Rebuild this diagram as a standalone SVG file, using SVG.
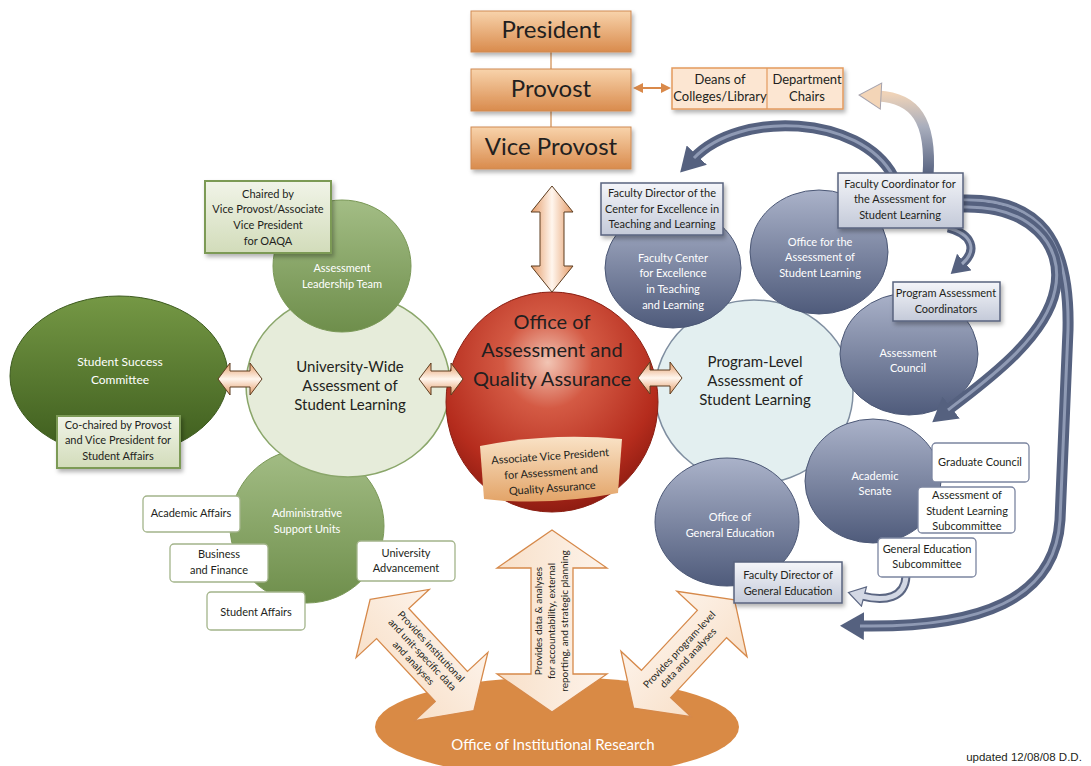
<svg xmlns="http://www.w3.org/2000/svg" width="1091" height="766" viewBox="0 0 1091 766">
<defs>
<linearGradient id="gTop" x1="0" y1="0" x2="0" y2="1"><stop offset="0" stop-color="#f8d3ab"/><stop offset="1" stop-color="#d98b4d"/></linearGradient>
<linearGradient id="gBlueBox" x1="0" y1="0" x2="0" y2="1"><stop offset="0" stop-color="#f4f5f9"/><stop offset="1" stop-color="#c4cad9"/></linearGradient>
<linearGradient id="gGreenBox" x1="0" y1="0" x2="0" y2="1"><stop offset="0" stop-color="#f1f4e8"/><stop offset="1" stop-color="#d2dcba"/></linearGradient>
<linearGradient id="gBlue" x1="0" y1="0" x2="0" y2="1"><stop offset="0" stop-color="#aab2c9"/><stop offset="1" stop-color="#4f5b7b"/></linearGradient>
<linearGradient id="gALT" x1="0" y1="0" x2="0" y2="1"><stop offset="0" stop-color="#a3bd85"/><stop offset="1" stop-color="#6e8e4b"/></linearGradient>
<linearGradient id="gSSC" x1="0" y1="0" x2="0" y2="1"><stop offset="0" stop-color="#759845"/><stop offset="1" stop-color="#3c5b1c"/></linearGradient>
<radialGradient id="gRed" cx="0.48" cy="0.32" r="0.7"><stop offset="0" stop-color="#f2c5b4"/><stop offset="0.3" stop-color="#d45a44"/><stop offset="0.75" stop-color="#b52c1d"/><stop offset="1" stop-color="#8a1a10"/></radialGradient>
<linearGradient id="gAVP" x1="0" y1="0" x2="0" y2="1"><stop offset="0" stop-color="#f9e2c6"/><stop offset="1" stop-color="#e3a468"/></linearGradient>
<linearGradient id="gOarr" x1="0" y1="0" x2="0" y2="1"><stop offset="0" stop-color="#fdf3ea"/><stop offset="1" stop-color="#f8e0c9"/></linearGradient>
<linearGradient id="gHarr" x1="0" y1="0" x2="0" y2="1"><stop offset="0" stop-color="#e49a66"/><stop offset="0.5" stop-color="#fff6ee"/><stop offset="1" stop-color="#e49a66"/></linearGradient>
<linearGradient id="gA2" gradientUnits="userSpaceOnUse" x1="0" y1="176" x2="0" y2="94"><stop offset="0" stop-color="#55617f"/><stop offset="0.6" stop-color="#a9aebd"/><stop offset="1" stop-color="#efd3b8"/></linearGradient>
<filter id="sh" x="-15%" y="-15%" width="140%" height="150%"><feDropShadow dx="2" dy="3" stdDeviation="2" flood-color="#000" flood-opacity="0.3"/></filter>
<marker id="mb" markerUnits="userSpaceOnUse" viewBox="0 0 24 28" refX="4" refY="14" markerWidth="24" markerHeight="28" orient="auto"><path d="M0,0 L24,14 L0,28 Z" fill="#55617f"/></marker>
<marker id="mp" markerUnits="userSpaceOnUse" viewBox="0 0 24 28" refX="4" refY="14" markerWidth="24" markerHeight="28" orient="auto"><path d="M1,1 L23,14 L1,27 Z" fill="#f3d5b7" stroke="#a6a3ad" stroke-width="1"/></marker>
<marker id="ms" markerUnits="userSpaceOnUse" viewBox="0 0 18 22" refX="3" refY="11" markerWidth="18" markerHeight="22" orient="auto"><path d="M0,0 L18,11 L0,22 Z" fill="#55617f"/></marker>
<marker id="ml" markerUnits="userSpaceOnUse" viewBox="0 0 18 22" refX="3" refY="11" markerWidth="18" markerHeight="22" orient="auto"><path d="M1,1 L17,11 L1,21 Z" fill="#d3d8e4" stroke="#5b6682" stroke-width="1.2"/></marker>
<marker id="mo" markerUnits="userSpaceOnUse" viewBox="0 0 10 10" refX="1" refY="5" markerWidth="10" markerHeight="10" orient="auto-start-reverse"><path d="M0,0 L10,5 L0,10 Z" fill="#d9894a"/></marker>
<style>
text{font-family:Lato,"Liberation Sans",sans-serif;fill:#231f20;text-anchor:middle}
.w{fill:#fff}
.f24{font-size:24px}
.f20{font-size:20px}
.f15{font-size:15px}
.f13{font-size:13px}
.f12{font-size:12px}
.f11{font-size:11px}
.f10{font-size:10px}
.topbox{fill:url(#gTop);stroke:#cf8a52;stroke-width:1}
.bbox{fill:url(#gBlueBox);stroke:#58637f;stroke-width:1.5}
.gbox{fill:url(#gGreenBox);stroke:#7c9a55;stroke-width:2}
.wbox{fill:#fff;stroke:#a3b48a;stroke-width:1.3}
.wboxb{fill:#fff;stroke:#7b85a0;stroke-width:1.3}
.bc{fill:url(#gBlue);stroke:#4c5876;stroke-width:1}
.oarr{fill:url(#gOarr);stroke:#d6894a;stroke-width:1.3}
.harr{fill:url(#gHarr);stroke:#5d3d20;stroke-width:1}
.barr{fill:none;stroke:#55617f;stroke-width:11}
.hl{fill:none;stroke:#8f9ab4;stroke-width:3}
</style>
</defs>
<rect width="1091" height="766" fill="#fff"/>

<!-- circle / ellipse nodes -->
<g id="admin-support-units">
<circle cx="307" cy="526" r="77" fill="url(#gALT)" stroke="#7a9857" stroke-width="1"/>
<text class="f11 w" x="307" y="517">Administrative</text>
<text class="f11 w" x="307" y="533">Support Units</text>
</g>
<g id="university-wide">
<ellipse cx="348" cy="385" rx="102" ry="92" fill="#e6ecda" stroke="#8aa66a" stroke-width="1.5"/>
<text class="f15" x="350" y="372">University-Wide</text>
<text class="f15" x="350" y="391">Assessment of</text>
<text class="f15" x="350" y="410">Student Learning</text>
</g>
<g id="assessment-leadership-team">
<ellipse cx="342" cy="266" rx="69" ry="66" fill="url(#gALT)" stroke="#7a9857" stroke-width="1"/>
<text class="f11 w" x="342" y="272">Assessment</text>
<text class="f11 w" x="342" y="288">Leadership Team</text>
</g>
<g id="student-success-committee">
<ellipse cx="119" cy="376" rx="109" ry="80" fill="url(#gSSC)" stroke="#3c5a1e" stroke-width="1"/>
<text class="f12 w" x="120" y="366">Student Success</text>
<text class="f12 w" x="120" y="384">Committee</text>
</g>
<g id="program-level">
<ellipse cx="754" cy="392" rx="99" ry="92" fill="#e3eff0" stroke="#7f8ea0" stroke-width="1.5"/>
<text class="f15" x="755" y="367">Program-Level</text>
<text class="f15" x="755" y="386">Assessment of</text>
<text class="f15" x="755" y="405">Student Learning</text>
</g>
<g id="faculty-center">
<ellipse cx="673" cy="268" rx="68" ry="60" class="bc"/>
<text class="f11 w" x="673" y="262">Faculty Center</text>
<text class="f11 w" x="673" y="277">for Excellence</text>
<text class="f11 w" x="673" y="293">in Teaching</text>
<text class="f11 w" x="673" y="309">and Learning</text>
</g>
<g id="office-assessment-student-learning">
<ellipse cx="819" cy="252" rx="69" ry="62" class="bc"/>
<text class="f11 w" x="820" y="246">Office for the</text>
<text class="f11 w" x="820" y="261">Assessment of</text>
<text class="f11 w" x="820" y="277">Student Learning</text>
</g>
<g id="assessment-council">
<ellipse cx="909" cy="354" rx="69" ry="61" class="bc"/>
<text class="f11 w" x="908" y="357">Assessment</text>
<text class="f11 w" x="908" y="372">Council</text>
</g>
<g id="academic-senate">
<ellipse cx="873" cy="481" rx="68" ry="62" class="bc"/>
<text class="f11 w" x="875" y="480">Academic</text>
<text class="f11 w" x="875" y="495">Senate</text>
</g>
<g id="office-general-education">
<ellipse cx="727" cy="522" rx="72" ry="64" class="bc"/>
<text class="f11 w" x="730" y="521">Office of</text>
<text class="f11 w" x="730" y="537">General Education</text>
</g>
<g id="oaqa">
<ellipse cx="552" cy="402" rx="106" ry="110" fill="url(#gRed)" stroke="#8a1e12" stroke-width="1"/>
<text class="f20" x="552" y="329">Office of</text>
<text class="f20" x="552" y="357">Assessment and</text>
<text class="f20" x="552" y="386">Quality Assurance</text>
<path d="M480,446 Q550,432 622,439 L618,493 Q550,506 484,499 Z" fill="url(#gAVP)"/>
<g transform="rotate(-4 551 470)">
<text class="f11" x="551" y="460">Associate Vice President</text>
<text class="f11" x="551" y="476">for Assessment and</text>
<text class="f11" x="551" y="492">Quality Assurance</text>
</g>
</g>
<g id="institutional-research">
<ellipse cx="557" cy="727" rx="182" ry="50" fill="#d98a45"/>
<text class="f15 w" x="553" y="750">Office of Institutional Research</text>
</g>

<!-- connectors -->
<g id="connectors">
<line x1="551" y1="52" x2="551" y2="69" stroke="#d9a06e" stroke-width="1.5"/>
<line x1="551" y1="111" x2="551" y2="127" stroke="#d9a06e" stroke-width="1.5"/>
<line x1="642" y1="88" x2="662" y2="88" stroke="#d9894a" stroke-width="2" marker-start="url(#mo)" marker-end="url(#mo)"/>
<polygon class="harr" points="-53,0 -27,-21 -27,-12 27,-12 27,-21 53,0 27,21 27,12 -27,12 -27,21" transform="translate(552,239) rotate(90)"/>
<polygon class="harr" points="-22,0 -10,-16 -10,-8 10,-8 10,-16 22,0 10,16 10,8 -10,8 -10,16" transform="translate(240,379)"/>
<polygon class="harr" points="-22,0 -10,-16 -10,-8 10,-8 10,-16 22,0 10,16 10,8 -10,8 -10,16" transform="translate(441,379)"/>
<polygon class="harr" points="-22,0 -10,-16 -10,-8 10,-8 10,-16 22,0 10,16 10,8 -10,8 -10,16" transform="translate(660,378)"/>
<polygon class="oarr" points="-91,0 -53,-55 -53,-21 53,-21 53,-55 91,0 53,55 53,21 -53,21 -53,55" transform="translate(552,621) rotate(90)"/>
<g transform="translate(552,621) rotate(-90)">
<text class="f10" x="0" y="-10">Provides data &amp; analyses</text>
<text class="f10" x="0" y="3">for accountability, external</text>
<text class="f10" x="0" y="16">reporting, and strategic planning</text>
</g>
<polygon class="oarr" points="-76,0 -43,-50 -43,-22 43,-22 43,-50 76,0 43,50 43,22 -43,22 -43,50" transform="translate(422,655) rotate(47)"/>
<g transform="translate(422,655) rotate(47)">
<text class="f10" x="0" y="-9">Provides institutional</text>
<text class="f10" x="0" y="3">and unit-specific data</text>
<text class="f10" x="0" y="15">and analyses</text>
</g>
<polygon class="oarr" points="-74,0 -41,-48 -41,-20 41,-20 41,-48 74,0 41,48 41,20 -41,20 -41,48" transform="translate(684,654) rotate(-47)"/>
<g transform="translate(684,654) rotate(-47)">
<text class="f10" x="0" y="-3">Provides program-level</text>
<text class="f10" x="0" y="9">data and analyses</text>
</g>
<path class="barr" d="M893,176 C860,115 740,110 694,158" marker-end="url(#mb)"/>
<path class="hl" d="M893,176 C860,115 740,110 694,158"/>
<path d="M928,176 C932,120 915,98 878,96" fill="none" stroke="url(#gA2)" stroke-width="11" marker-end="url(#mp)"/>
<path class="barr" d="M962,200 C1040,198 1070,240 1068,330 L1060,520 C1055,600 980,628 860,626" marker-end="url(#mb)"/>
<path class="hl" d="M962,200 C1040,198 1070,240 1068,330 L1060,520 C1055,600 980,628 860,626"/>
<path class="barr" d="M962,207 C1030,205 1065,245 1055,290 C1045,340 980,385 948,410" marker-end="url(#mb)"/>
<path class="hl" d="M962,207 C1030,205 1065,245 1055,290 C1045,340 980,385 948,410"/>
<path d="M948,228 C972,234 978,250 962,264" fill="none" stroke="#55617f" stroke-width="9" marker-end="url(#ms)"/>
<path d="M948,228 C972,234 978,250 962,264" fill="none" stroke="#9aa4bc" stroke-width="3"/>
<path d="M906,576 C905,598 885,602 862,596" fill="none" stroke="#5b6682" stroke-width="9" marker-end="url(#ml)"/>
<path d="M906,576 C905,598 885,602 862,596" fill="none" stroke="#d3d8e4" stroke-width="5"/>
</g>

<!-- box nodes -->
<g id="president"><rect x="471" y="11" width="160" height="41" class="topbox" filter="url(#sh)"/><text class="f24" x="551" y="38">President</text></g>
<g id="provost"><rect x="471" y="69" width="160" height="42" class="topbox" filter="url(#sh)"/><text class="f24" x="551" y="97">Provost</text></g>
<g id="vice-provost"><rect x="471" y="127" width="160" height="42" class="topbox" filter="url(#sh)"/><text class="f24" x="551" y="155">Vice Provost</text></g>
<g id="deans-chairs">
<rect x="672" y="68" width="171" height="41" fill="#fce6d2" stroke="#e39a5e" stroke-width="1.5" filter="url(#sh)"/>
<line x1="767" y1="68" x2="767" y2="109" stroke="#e39a5e" stroke-width="1.2"/>
<text class="f13" x="720" y="84">Deans of</text>
<text class="f13" x="720" y="101">Colleges/Library</text>
<text class="f13" x="807" y="84">Department</text>
<text class="f13" x="807" y="101">Chairs</text>
</g>
<g id="chaired-by">
<rect x="205" y="181" width="126" height="72" class="gbox" filter="url(#sh)"/>
<text class="f11" x="268" y="198">Chaired by</text>
<text class="f11" x="268" y="213">Vice Provost/Associate</text>
<text class="f11" x="268" y="229">Vice President</text>
<text class="f11" x="268" y="245">for OAQA</text>
</g>
<g id="co-chaired">
<rect x="57" y="416" width="123" height="52" class="gbox" filter="url(#sh)"/>
<text class="f11" x="118" y="429">Co-chaired by Provost</text>
<text class="f11" x="118" y="444">and Vice President for</text>
<text class="f11" x="118" y="460">Student Affairs</text>
</g>
<g id="academic-affairs"><rect x="143" y="496" width="97" height="36" rx="4" class="wbox"/><text class="f11" x="191" y="517">Academic Affairs</text></g>
<g id="business-finance"><rect x="170" y="544" width="98" height="38" rx="4" class="wbox"/><text class="f11" x="219" y="558">Business</text><text class="f11" x="219" y="574">and Finance</text></g>
<g id="student-affairs"><rect x="207" y="592" width="98" height="38" rx="4" class="wbox"/><text class="f11" x="256" y="616">Student Affairs</text></g>
<g id="university-advancement"><rect x="357" y="541" width="98" height="40" rx="4" class="wbox"/><text class="f11" x="406" y="557">University</text><text class="f11" x="406" y="572">Advancement</text></g>
<g id="faculty-director-cetl">
<rect x="601" y="183" width="122" height="52" class="bbox" filter="url(#sh)"/>
<text class="f11" x="662" y="197">Faculty Director of the</text>
<text class="f11" x="662" y="213">Center for Excellence in</text>
<text class="f11" x="662" y="228">Teaching and Learning</text>
</g>
<g id="faculty-coordinator">
<rect x="838" y="173" width="125" height="55" class="bbox" filter="url(#sh)"/>
<text class="f11" x="900" y="188">Faculty Coordinator for</text>
<text class="f11" x="900" y="203">the Assessment for</text>
<text class="f11" x="900" y="219">Student Learning</text>
</g>
<g id="program-assessment-coordinators">
<rect x="893" y="282" width="107" height="39" class="bbox" filter="url(#sh)"/>
<text class="f11" x="946" y="297">Program Assessment</text>
<text class="f11" x="946" y="313">Coordinators</text>
</g>
<g id="graduate-council"><rect x="932" y="443" width="97" height="39" rx="4" class="wboxb"/><text class="f11" x="980" y="466">Graduate Council</text></g>
<g id="asl-subcommittee"><rect x="918" y="487" width="97" height="46" rx="4" class="wboxb"/><text class="f11" x="967" y="499">Assessment of</text><text class="f11" x="967" y="515">Student Learning</text><text class="f11" x="967" y="530">Subcommittee</text></g>
<g id="ge-subcommittee"><rect x="878" y="538" width="98" height="39" rx="4" class="wboxb"/><text class="f11" x="927" y="553">General Education</text><text class="f11" x="927" y="568">Subcommittee</text></g>
<g id="faculty-director-ge">
<rect x="734" y="562" width="108" height="41" class="bbox" filter="url(#sh)"/>
<text class="f11" x="788" y="579">Faculty Director of</text>
<text class="f11" x="788" y="595">General Education</text>
</g>
<text x="1024" y="761" style="font-family:'Liberation Sans',sans-serif;font-size:11.5px">updated 12/08/08  D.D.</text>
</svg>
